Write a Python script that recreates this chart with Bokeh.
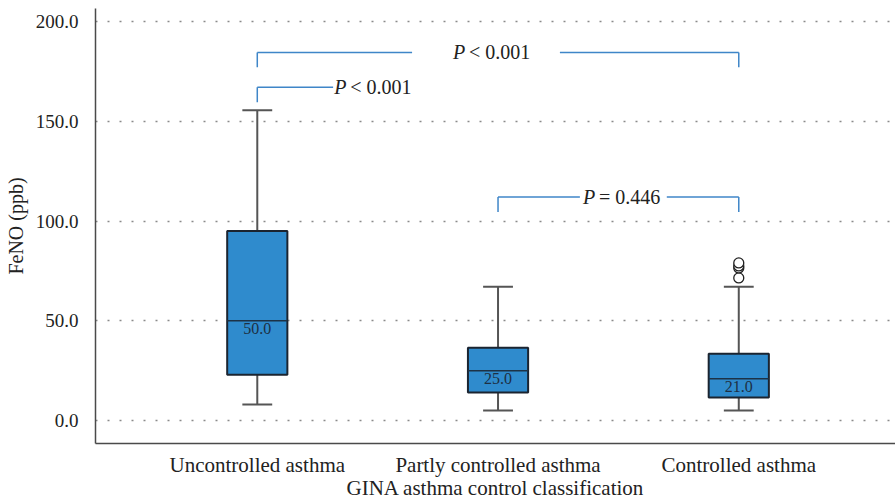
from bokeh.plotting import figure
from bokeh.models import FixedTicker, Range1d, ColumnDataSource
from bokeh.core.properties import value
from bokeh.embed import file_html
from bokeh.resources import INLINE

# ---- data ----
categories = ["Uncontrolled asthma", "Partly controlled asthma", "Controlled asthma"]
lower = [8.0, 5.0, 5.0]
q1 = [23.0, 14.0, 11.5]
median = [50.0, 25.0, 21.0]
q3 = [95.0, 36.5, 33.5]
upper = [155.5, 67.0, 67.0]
outlier_group = [3, 3, 3, 3]
outlier_values = [71.5, 76.5, 77.5, 79.0]
median_labels = ["50.0", "25.0", "21.0"]
y_ticks = [0, 50, 100, 150, 200]

# significance brackets
cmp_left = [1, 1, 2]
cmp_right = [3, 2, 3]
cmp_height = [184.5, 167.0, 112.0]
cmp_op = ["<\u00a00.001", "<\u00a00.001", "=\u00a00.446"]

SERIF = "Liberation Serif"
BOX = "#2f8bcd"
BRACKET = "#3f86c8"
TXT = "#222222"

x = [1, 2, 3]

p = figure(width=895, height=502, output_backend="svg", toolbar_location=None,
           x_range=Range1d(0.328, 3.651), y_range=Range1d(-11.5, 206.5),
           min_border_left=95, min_border_right=0, min_border_top=8, min_border_bottom=59)
p.outline_line_color = None

# grid
p.xgrid.visible = False
p.ygrid.ticker = FixedTicker(ticks=y_ticks)
p.ygrid.grid_line_color = "#8a8a8a"
p.ygrid.grid_line_dash = "2 10"
p.ygrid.grid_line_width = 1.5

# axes
p.xaxis.ticker = FixedTicker(ticks=x)
p.xaxis.major_label_overrides = {i + 1: c for i, c in enumerate(categories)}
p.yaxis.ticker = FixedTicker(ticks=y_ticks)
p.yaxis.major_label_overrides = {v: f"{v:.1f}" for v in y_ticks}
for ax in (p.xaxis[0], p.yaxis[0]):
    ax.major_tick_line_color = None
    ax.minor_tick_line_color = None
    ax.axis_line_color = "#4a4a4a"
    ax.axis_line_width = 1.5
    ax.major_label_text_font = SERIF
    ax.major_label_text_color = TXT
    ax.axis_label_text_font = SERIF
    ax.axis_label_text_font_style = "normal"
    ax.axis_label_text_color = TXT
p.xaxis.major_label_text_font_size = "21px"
p.xaxis.axis_label_text_font_size = "21px"
p.yaxis.major_label_text_font_size = "19px"
p.yaxis.axis_label_text_font_size = "20px"
p.xaxis.axis_label = "GINA asthma control classification"
p.yaxis.axis_label = "FeNO (ppb)"
p.xaxis.major_label_standoff = 3
p.xaxis.axis_label_standoff = -4
p.yaxis.major_label_standoff = 11
p.yaxis.axis_label_standoff = 6

src = ColumnDataSource(dict(x=x, lower=lower, q1=q1, median=median, q3=q3, upper=upper,
                            lab=median_labels))
cap = 0.062
src.data["cl"] = [v - cap for v in x]
src.data["cr"] = [v + cap for v in x]
bw = 0.125
src.data["bl"] = [v - bw for v in x]
src.data["br"] = [v + bw for v in x]

# whiskers
p.segment(x0="x", y0="q3", x1="x", y1="upper", source=src, line_color="#555555", line_width=2)
p.segment(x0="x", y0="lower", x1="x", y1="q1", source=src, line_color="#555555", line_width=2)
p.segment(x0="cl", y0="upper", x1="cr", y1="upper", source=src, line_color="#555555", line_width=2)
p.segment(x0="cl", y0="lower", x1="cr", y1="lower", source=src, line_color="#555555", line_width=2)
# boxes
p.quad(left="bl", right="br", bottom="q1", top="q3", source=src,
       fill_color=BOX, line_color="#1b2430", line_width=2)
p.segment(x0="bl", y0="median", x1="br", y1="median", source=src, line_color="#1d3246", line_width=1.5)
p.text(x="x", y="median", text="lab", source=src, text_align="center", text_baseline="top",
       y_offset=2, text_font=value(SERIF), text_font_size="16px", text_color="#1d3044")

# outliers
p.scatter(x=outlier_group, y=outlier_values, size=10, marker="circle",
          fill_color="white", line_color="#222222", line_width=1.3)

# brackets: (line gap start, gap end or None, label left x)
tick_len = 7.5
gaps = [(1.643, 2.257, 1.813), (1.315, None, 1.320), (2.34, 2.701, 2.353)]
for l, r, h, op, (g0, g1, tx) in zip(cmp_left, cmp_right, cmp_height, cmp_op, gaps):
    p.line([l, l], [h - tick_len, h], line_color=BRACKET, line_width=1.5)
    p.line([l, g0], [h, h], line_color=BRACKET, line_width=1.5)
    if g1 is not None:
        p.line([g1, r], [h, h], line_color=BRACKET, line_width=1.5)
        p.line([r, r], [h - tick_len, h], line_color=BRACKET, line_width=1.5)
    p.text(x=[tx], y=[h], text=["P"], text_font=value(SERIF), text_font_size="20px",
           text_font_style="italic", text_align="left", text_baseline="middle", text_color=TXT)
    p.text(x=[tx], y=[h], text=[op], text_font=value(SERIF), text_font_size="20px",
           text_align="left", text_baseline="middle", text_color=TXT, x_offset=16)

open("out.html", "w").write(file_html(p, INLINE))
